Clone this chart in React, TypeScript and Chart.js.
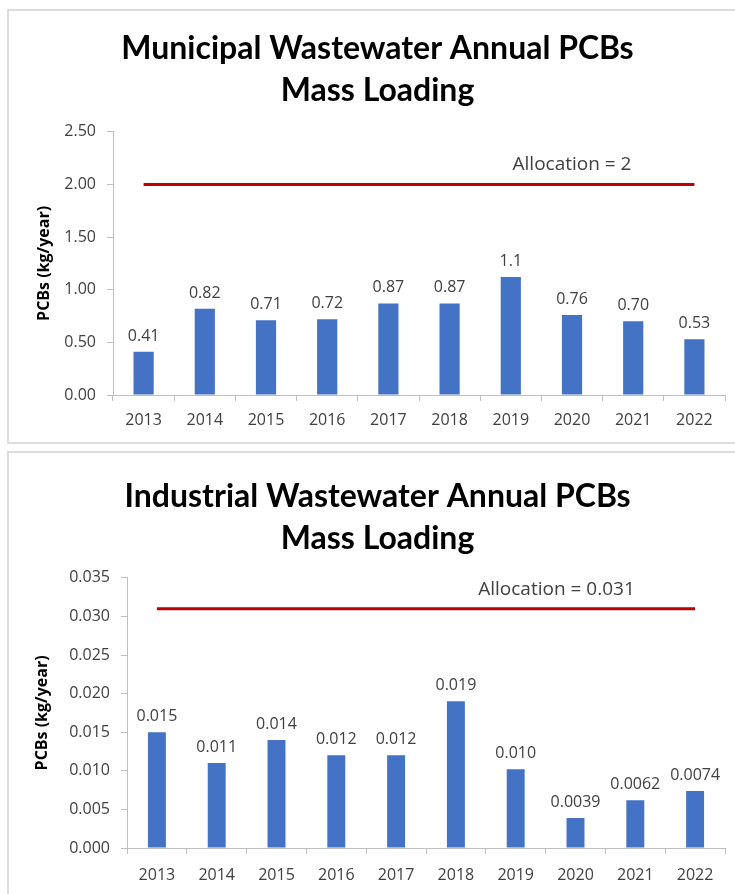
import React, { useEffect, useRef } from "react";
import { Chart, registerables } from "chart.js";

Chart.register(...registerables);

const years = ["2013", "2014", "2015", "2016", "2017", "2018", "2019", "2020", "2021", "2022"];

const municipalTitle = ["Municipal Wastewater Annual PCBs", "Mass Loading"];
const municipalValues = [0.41, 0.82, 0.71, 0.72, 0.87, 0.87, 1.12, 0.76, 0.7, 0.53];
const municipalLabels = ["0.41", "0.82", "0.71", "0.72", "0.87", "0.87", "1.1", "0.76", "0.70", "0.53"];
const municipalAllocation = [2, 2, 2, 2, 2, 2, 2, 2, 2, 2];
const municipalAllocationText = "Allocation = 2";
const municipalAxis = { min: 0, max: 2.5, step: 0.5, decimals: 2 };

const industrialTitle = ["Industrial Wastewater Annual PCBs", "Mass Loading"];
const industrialValues = [0.015, 0.011, 0.014, 0.012, 0.012, 0.019, 0.0102, 0.0039, 0.0062, 0.0074];
const industrialLabels = ["0.015", "0.011", "0.014", "0.012", "0.012", "0.019", "0.010", "0.0039", "0.0062", "0.0074"];
const industrialAllocation = [0.031, 0.031, 0.031, 0.031, 0.031, 0.031, 0.031, 0.031, 0.031, 0.031];
const industrialAllocationText = "Allocation = 0.031";
const industrialAxis = { min: 0, max: 0.035, step: 0.005, decimals: 3 };

const yTitle = "PCBs (kg/year)";

const BAR = "#4472C4";
const RED = "#C00000";
const AXIS = "#BFBFBF";
const TICK = "#404040";
const LABEL = "#404040";

const labelPlugin = {
  id: "barLabels",
  afterDatasetsDraw(chart: any, _args: any, opts: any) {
    const { ctx } = chart;
    ctx.save();
    ctx.textAlign = "center";
    ctx.textBaseline = "alphabetic";
    ctx.fillStyle = LABEL;
    ctx.font = '16px "Open Sans"';
    const bars = chart.getDatasetMeta(0).data;
    bars.forEach((bar: any, i: number) => {
      ctx.fillText(opts.labels[i], bar.x, bar.y - opts.gap);
    });
    const pts = chart.getDatasetMeta(1).data;
    const pt = pts[opts.allocIndex];
    ctx.font = '19px "Open Sans"';
    ctx.fillStyle = LABEL;
    ctx.fillText(opts.allocText, pt.x + opts.allocDx, pt.y - 14);
    ctx.restore();
  },
};

type Cfg = {
  title: string[];
  values: number[];
  labels: string[];
  allocation: number[];
  allocText: string;
  allocDx: number;
  axis: { min: number; max: number; step: number; decimals: number };
  yWidth: number;
  yTitlePad: number;
  xHeight: number;
  xPad: number;
  barPct: number;
  titlePadTop: number;
  titlePadBottom: number;
};

function PcbChart({ cfg, top }: { cfg: Cfg; top: number }) {
  const ref = useRef<HTMLCanvasElement | null>(null);
  useEffect(() => {
    if (!ref.current) return;
    const chart = new Chart(ref.current, {
      type: "bar",
      data: {
        labels: years,
        datasets: [
          {
            type: "bar",
            data: cfg.values,
            backgroundColor: BAR,
            barPercentage: cfg.barPct,
            categoryPercentage: 1,
            order: 2,
          } as any,
          {
            type: "line",
            data: cfg.allocation,
            borderColor: RED,
            borderWidth: 3,
            pointRadius: 0,
            fill: false,
            order: 1,
          } as any,
        ],
      },
      options: {
        responsive: false,
        animation: false,
        layout: { padding: { left: 30, right: 10, top: 0, bottom: 0 } },
        plugins: {
          legend: { display: false },
          tooltip: { enabled: false },
          title: {
            display: true,
            text: cfg.title,
            color: "#000000",
            font: { family: "Lato", size: 32, weight: "bold", lineHeight: 1.31 },
            padding: { top: cfg.titlePadTop, bottom: cfg.titlePadBottom },
          },
          barLabels: {
            labels: cfg.labels,
            gap: 11,
            allocIndex: 7,
            allocText: cfg.allocText,
            allocDx: cfg.allocDx,
          },
        } as any,
        scales: {
          x: {
            grid: {
              offset: true,
              drawOnChartArea: false,
              drawTicks: true,
              tickLength: 6,
              color: AXIS,
            },
            border: { display: true, color: AXIS, width: 1 },
            ticks: {
              color: TICK,
              font: { family: "Open Sans", size: 16 },
              padding: cfg.xPad,
              maxRotation: 0,
            },
            afterFit: (s: any) => {
              s.height = cfg.xHeight;
            },
          },
          y: {
            min: cfg.axis.min,
            max: cfg.axis.max,
            ticks: {
              stepSize: cfg.axis.step,
              color: TICK,
              font: { family: "Open Sans", size: 16 },
              padding: 11,
              callback: (v: any) => Number(v).toFixed(cfg.axis.decimals),
            },
            grid: {
              drawOnChartArea: false,
              drawTicks: true,
              tickLength: 6,
              color: AXIS,
            },
            border: { display: true, color: AXIS, width: 1 },
            title: {
              display: true,
              text: yTitle,
              color: "#000000",
              font: { family: "Open Sans", size: 16, weight: "bold", lineHeight: 1.2 },
              padding: { top: cfg.yTitlePad, bottom: 0 },
            },
            afterFit: (s: any) => {
              s.width = cfg.yWidth;
            },
          },
        },
      },
      plugins: [labelPlugin],
    });
    return () => chart.destroy();
  }, [cfg]);
  return (
    <canvas
      ref={ref}
      width={735}
      height={446}
      style={{ position: "absolute", left: 0, top, width: 735, height: 446 }}
    />
  );
}

const topCfg: Cfg = {
  title: municipalTitle,
  values: municipalValues,
  labels: municipalLabels,
  allocation: municipalAllocation,
  allocText: municipalAllocationText,
  allocDx: 0,
  axis: municipalAxis,
  yWidth: 83,
  yTitlePad: 5,
  xHeight: 51,
  xPad: 10,
  barPct: 0.33,
  titlePadTop: 28,
  titlePadBottom: 20,
};

const bottomCfg: Cfg = {
  title: industrialTitle,
  values: industrialValues,
  labels: industrialLabels,
  allocation: industrialAllocation,
  allocText: industrialAllocationText,
  allocDx: -19,
  axis: industrialAxis,
  yWidth: 97,
  yTitlePad: 3,
  xHeight: 46,
  xPad: 12,
  barPct: 0.3,
  titlePadTop: 28,
  titlePadBottom: 18,
};

export default function App() {
  const border = "2px solid #DDDDDD";
  return (
    <div style={{ position: "absolute", left: 0, top: 0, width: 735, height: 894, background: "#fff", overflow: "hidden" }}>
      <PcbChart cfg={topCfg} top={0} />
      <PcbChart cfg={bottomCfg} top={448} />
      <div
        style={{
          position: "absolute",
          left: 7,
          top: 9,
          width: 740,
          height: 431,
          borderLeft: border,
          borderTop: border,
          borderBottom: border,
          pointerEvents: "none",
        }}
      />
      <div
        style={{
          position: "absolute",
          left: 7,
          top: 451,
          width: 740,
          height: 460,
          borderLeft: border,
          borderTop: border,
          pointerEvents: "none",
        }}
      />
    </div>
  );
}
